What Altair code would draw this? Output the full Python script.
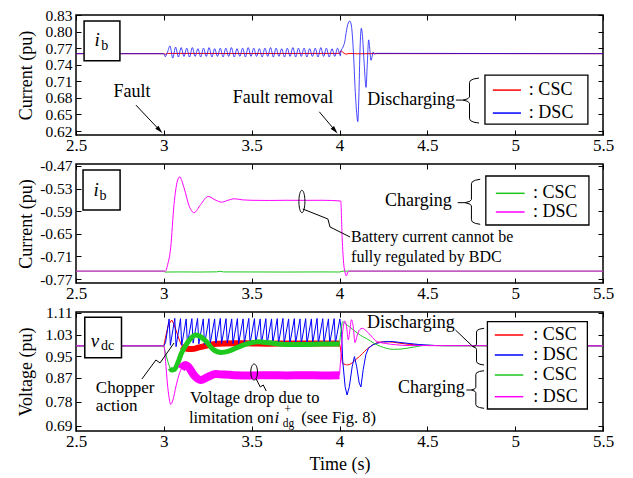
import altair as alt
import numpy as np
import pandas as pd

FONT = "Liberation Serif"
W = 527
H1, H2, H3 = 120, 119, 119
RED, BLUE, GREEN, MAG = "#ff0000", "#0000ff", "#1ec81e", "#ff00ff"

X_DOMAIN = [2.5, 5.5]
X_TICKS = [2.5, 3.0, 3.5, 4.0, 4.5, 5.0, 5.5]

# ---------------- Panel 1 : battery current, discharging ----------------
P1_DOMAIN = [0.6128, 0.83]
P1_TICKS = [0.62, 0.65, 0.68, 0.71, 0.74, 0.77, 0.80, 0.83]

P1_RED_T = [2.5, 3.0, 3.008, 3.02, 3.5, 4.0, 4.01, 4.02, 4.035, 4.06, 4.1, 4.2, 5.5]
P1_RED_V = [0.76, 0.76, 0.7588, 0.7605, 0.7603, 0.7605, 0.7655, 0.762, 0.7592, 0.7604, 0.7598, 0.7601, 0.76]

P1_BLUE_PRE_T = [2.5, 3.0, 3.008, 3.02]
P1_BLUE_PRE_V = [0.76, 0.76, 0.7545, 0.762]
P1_BLUE_FIRST, P1_BLUE_PERIOD = 3.035, 0.0318
P1_BLUE_PEAKS = [0.774, 0.772, 0.771, 0.770, 0.771, 0.769, 0.770, 0.771, 0.769, 0.770, 0.770,
                 0.771, 0.769, 0.770, 0.771, 0.770, 0.769, 0.770, 0.771, 0.770, 0.769, 0.770,
                 0.771, 0.770, 0.770, 0.769, 0.770, 0.771, 0.770, 0.769, 0.770]
P1_BLUE_TROUGHS = [0.752, 0.754, 0.755, 0.754, 0.755, 0.754, 0.755, 0.754, 0.755, 0.754, 0.755,
                   0.754, 0.755, 0.754, 0.755, 0.755, 0.754, 0.755, 0.754, 0.755, 0.754, 0.755,
                   0.754, 0.755, 0.754, 0.755, 0.754, 0.755, 0.754, 0.755, 0.756]
P1_BLUE_POST_T = [4.008, 4.02, 4.03, 4.038, 4.047, 4.059, 4.068, 4.078, 4.09, 4.1, 4.104, 4.11,
                  4.117, 4.124, 4.13, 4.14, 4.151, 4.158, 4.166, 4.172, 4.179, 4.186, 4.192, 4.2,
                  4.207, 5.5]
P1_BLUE_POST_V = [0.764, 0.772, 0.782, 0.798, 0.813, 0.819, 0.81, 0.77, 0.69, 0.645, 0.637, 0.68,
                  0.77, 0.806, 0.795, 0.745, 0.699, 0.74, 0.785, 0.77, 0.748, 0.755, 0.763, 0.759,
                  0.7606, 0.76]

# ---------------- Panel 2 : battery current, charging ----------------
P2_DOMAIN = [-0.7806, -0.4647]
P2_TICKS = [-0.77, -0.71, -0.65, -0.59, -0.53, -0.47]

P2_GREEN_T = [2.5, 3.0, 3.006, 3.1, 3.2, 3.3, 3.32, 3.34, 3.5, 3.7, 3.9, 4.0, 4.02, 5.5]
P2_GREEN_V = [-0.749, -0.749, -0.7515, -0.7512, -0.7515, -0.751, -0.7495, -0.7512, -0.7513,
              -0.7515, -0.7512, -0.7514, -0.749, -0.749]

P2_MAG_T = [2.5, 3.01, 3.02, 3.039, 3.058, 3.077, 3.09, 3.115, 3.144, 3.172, 3.21, 3.252, 3.296,
            3.329, 3.365, 3.401, 3.45, 3.496, 3.6, 3.7, 3.8, 3.9, 4.007, 4.015, 4.025, 4.03,
            4.039, 4.047, 4.06, 5.5]
P2_MAG_V = [-0.749, -0.749, -0.735, -0.687, -0.572, -0.51, -0.499, -0.528, -0.576, -0.594, -0.572,
            -0.551, -0.561, -0.566, -0.561, -0.557, -0.56, -0.561, -0.5615, -0.561, -0.5612,
            -0.561, -0.563, -0.66, -0.735, -0.749, -0.762, -0.752, -0.749, -0.749]

# ---------------- Panel 3 : dc-link voltage ----------------
P3_DOMAIN = [0.6714, 1.1137]
P3_TICKS = [0.69, 0.78, 0.87, 0.95, 1.03, 1.11]

P3_RED_PRE_T = [2.5, 3.0, 3.01, 3.025, 3.045, 3.06, 3.08, 3.1]
P3_RED_PRE_V = [0.988, 0.988, 1.02, 1.065, 1.084, 1.065, 1.025, 0.99]
P3_RED_BAND_T = [3.1, 3.13, 3.16, 3.2, 3.25, 3.3, 3.4, 3.5, 3.6, 3.7, 3.8, 3.9, 4.0]
P3_RED_BAND_V = [0.985, 0.977, 0.976, 0.982, 0.99, 0.996, 0.998, 0.997, 0.996, 0.997, 0.997, 0.997, 0.997]
P3_RED_POST_T = [4.0, 4.01, 4.018, 4.047, 4.095, 4.132, 4.155, 4.18, 4.23, 4.28, 4.33, 4.4, 4.5, 5.5]
P3_RED_POST_V = [0.997, 0.96, 0.923, 0.917, 0.938, 0.96, 0.975, 0.987, 1.002, 1.003, 0.999, 0.993, 0.989, 0.988]

P3_BLUE_PRE_T = [2.5, 3.0, 3.01]
P3_BLUE_PRE_V = [0.988, 0.988, 1.0]
P3_BLUE_FIRST, P3_BLUE_PERIOD = 3.03, 0.0324
P3_BLUE_TOPS = [1.088, 1.09, 1.089, 1.088, 1.089, 1.09, 1.088, 1.089, 1.088, 1.09, 1.089, 1.088,
                1.089, 1.088, 1.09, 1.089, 1.088, 1.089, 1.088, 1.089, 1.09, 1.088, 1.089, 1.088,
                1.089, 1.088, 1.09, 1.089, 1.088, 1.089, 1.088]
P3_BLUE_BOTTOMS = [0.99, 0.985, 0.99, 0.995, 0.998, 0.995, 0.993, 0.996, 0.998, 0.997, 0.998,
                   0.996, 0.997, 0.998, 0.997, 0.998, 0.997, 0.996, 0.998, 0.997, 0.998, 0.997,
                   0.998, 0.996, 0.997, 0.998, 0.997, 0.998, 0.997, 0.998]
P3_BLUE_POST_T = [4.012, 4.018, 4.032, 4.043, 4.056, 4.072, 4.085, 4.098, 4.112, 4.122, 4.135,
                  4.15, 4.165, 4.19, 4.21, 4.25, 4.3, 4.35, 4.45, 4.55, 5.5]
P3_BLUE_POST_V = [1.04, 0.935, 0.836, 0.805, 0.836, 0.91, 0.948, 0.91, 0.85, 0.835, 0.9, 0.955,
                  0.979, 0.992, 0.997, 1.003, 1.004, 1.0, 0.993, 0.989, 0.988]

P3_GREEN_PRE_T = [2.5, 3.0, 3.01, 3.025, 3.035]
P3_GREEN_PRE_V = [0.988, 0.988, 0.96, 0.925, 0.905]
P3_GREEN_BAND_T = [3.035, 3.045, 3.06, 3.08, 3.1, 3.13, 3.16, 3.18, 3.2, 3.24, 3.28, 3.325, 3.37,
                   3.43, 3.49, 3.535, 3.6, 3.7, 3.8, 3.9, 4.0]
P3_GREEN_BAND_V = [0.905, 0.898, 0.9, 0.925, 0.96, 0.995, 1.02, 1.028, 1.025, 1.005, 0.975, 0.963,
                   0.968, 0.985, 0.998, 1.003, 0.999, 0.993, 0.993, 0.995, 0.995]
P3_GREEN_POST_T = [4.0, 4.008, 4.018, 4.03, 4.08, 4.132, 4.154, 4.2, 4.266, 4.306, 4.35, 4.42,
                   4.497, 4.6, 5.5]
P3_GREEN_POST_V = [0.995, 1.04, 1.078, 1.072, 1.047, 1.022, 1.015, 0.996, 0.979, 0.975, 0.976,
                   0.983, 0.99, 0.988, 0.988]

P3_MAG_PRE_T = [2.5, 3.0, 3.01, 3.02, 3.03, 3.039, 3.05, 3.07, 3.09, 3.1]
P3_MAG_PRE_V = [0.988, 0.988, 0.93, 0.85, 0.795, 0.77, 0.783, 0.84, 0.888, 0.902]
P3_MAG_BAND_T = [3.1, 3.11, 3.124, 3.14, 3.17, 3.21, 3.25, 3.296, 3.34, 3.4, 3.5, 3.6, 3.7, 3.8, 3.9, 4.0]
P3_MAG_BAND_V = [0.902, 0.912, 0.917, 0.91, 0.88, 0.861, 0.872, 0.883, 0.881, 0.879, 0.878, 0.879,
                 0.878, 0.879, 0.878, 0.879]
P3_MAG_POST_T = [4.0, 4.008, 4.018, 4.03, 4.04, 4.05, 4.058, 4.068, 4.078, 4.088, 4.1, 4.115,
                 4.13, 4.15, 4.18, 4.21, 4.26, 4.32, 4.4, 5.5]
P3_MAG_POST_V = [0.879, 0.95, 1.04, 1.08, 1.06, 1.01, 1.04, 1.085, 1.06, 1.0, 1.025, 1.048, 1.053,
                 1.045, 1.025, 1.005, 0.997, 0.992, 0.989, 0.988]


# ---------------- helpers ----------------
def df_of(t, v):
    return pd.DataFrame({"t": t, "v": v})


def osc(pre_t, pre_v, first, period, highs, lows, low_frac, post_t, post_v):
    t, v = list(pre_t), list(pre_v)
    for k, h in enumerate(highs):
        tk = first + k * period
        t.append(tk)
        v.append(h)
        if k < len(lows):
            t.append(tk + low_frac * period)
            v.append(lows[k])
    return df_of(t + list(post_t), v + list(post_v))


class Panel:
    def __init__(self, ydom):
        self.ydom = ydom
        self.layers = []

    def X(self, f="t"):
        return alt.X(f + ":Q", scale=alt.Scale(domain=X_DOMAIN, nice=False, zero=False), axis=None)

    def Y(self, f="v"):
        return alt.Y(f + ":Q", scale=alt.Scale(domain=self.ydom, nice=False, zero=False), axis=None)

    def line(self, df, color, width=1.0, opacity=1.0, interp="linear"):
        self.layers.append(
            alt.Chart(df).mark_line(color=color, strokeWidth=width, opacity=opacity,
                                    interpolate=interp, strokeCap="butt", clip=True)
            .encode(x=self.X(), y=self.Y()))

    def path(self, pts, width=1.0, color="black"):
        df = pd.DataFrame({"i": range(len(pts)), "t": [p[0] for p in pts], "v": [p[1] for p in pts]})
        self.layers.append(
            alt.Chart(df).mark_line(color=color, strokeWidth=width)
            .encode(x=self.X(), y=self.Y(), order="i:Q"))

    def rect(self, t1, t2, v1, v2, sw=1.3):
        df = pd.DataFrame({"t": [t1], "t2": [t2], "v": [v1], "v2": [v2]})
        self.layers.append(
            alt.Chart(df).mark_rect(fill="white", stroke="black", strokeWidth=sw)
            .encode(x=self.X(), x2=alt.X2("t2"), y=self.Y(), y2=alt.Y2("v2")))

    def rule(self, t1, t2, v, color, sw=1.5):
        df = pd.DataFrame({"t": [t1], "t2": [t2], "v": [v]})
        self.layers.append(
            alt.Chart(df).mark_rule(color=color, strokeWidth=sw)
            .encode(x=self.X(), x2=alt.X2("t2"), y=self.Y()))

    def text(self, s, t, v, size=18, align="left", baseline="alphabetic", italic=False):
        df = pd.DataFrame({"s": [s], "t": [t], "v": [v]})
        kw = dict(font=FONT, fontSize=size, align=align, baseline=baseline, color="black")
        if italic:
            kw["fontStyle"] = "italic"
        self.layers.append(
            alt.Chart(df).mark_text(**kw).encode(x=self.X(), y=self.Y(), text="s:N"))

    def arrow(self, t0, v0, tc, vc, angle):
        self.path([(t0, v0), (tc, vc)])
        df = pd.DataFrame({"t": [tc], "v": [vc]})
        self.layers.append(
            alt.Chart(df).mark_point(shape="M0,-1L0.55,1L-0.55,1Z", filled=True, color="black",
                                     opacity=1, size=64, angle=angle, strokeWidth=0)
            .encode(x=self.X(), y=self.Y()))

    def ellipse(self, tc, vc, rt, rv):
        a = np.linspace(0, 2 * np.pi, 49)
        self.path(list(zip(tc + rt * np.cos(a), vc + rv * np.sin(a))))

    def brace(self, t_tip, t_vert, t_hook, v_top, v_mid, v_bot, dash_from=None):
        c = 0.1 * (v_top - v_bot)
        dh = t_hook - t_vert
        dt = t_vert - t_tip
        pts = [(t_hook, v_top), (t_vert + 0.45 * dh, v_top - 0.2 * c), (t_vert + 0.1 * dh, v_top - 0.55 * c),
               (t_vert, v_top - c), (t_vert, v_mid + 0.7 * c), (t_vert - 0.25 * dt, v_mid + 0.3 * c),
               (t_tip, v_mid),
               (t_vert - 0.25 * dt, v_mid - 0.3 * c), (t_vert, v_mid - 0.7 * c), (t_vert, v_bot + c),
               (t_vert + 0.1 * dh, v_bot + 0.55 * c), (t_vert + 0.45 * dh, v_bot + 0.2 * c), (t_hook, v_bot)]
        self.path(pts)
        if dash_from is not None:
            self.path([(dash_from, v_mid), (t_tip, v_mid)])

    def build(self, height, ticks, title, label_expr, xtitle=None):
        common = dict(domain=False, grid=False, tickColor="black", tickSize=5, tickWidth=1,
                      offset=-5, labelFont=FONT, labelColor="black",
                      labelOverlap=False, labelFlush=False,
                      titleFont=FONT, titleFontSize=18, titleFontWeight="normal", titleColor="black")
        adf = pd.DataFrame({"t": X_DOMAIN, "v": self.ydom})
        xs = alt.Scale(domain=X_DOMAIN, nice=False, zero=False)
        ys = alt.Scale(domain=self.ydom, nice=False, zero=False)
        xax = alt.Axis(orient="bottom", values=X_TICKS, format="~g", labelPadding=2, labelFontSize=17,
                       title=xtitle if xtitle else None, titlePadding=6, **common)
        yax = alt.Axis(orient="left", values=ticks, labelExpr=label_expr, labelPadding=4,
                       labelFontSize=15.5,
                       title=title, titleX=-55, titleY=height / 2, titleBaseline="middle",
                       titleAngle=270, **common)
        ax1 = alt.Chart(adf).mark_point(opacity=0).encode(
            x=alt.X("t:Q", scale=xs, axis=xax), y=alt.Y("v:Q", scale=ys, axis=yax))
        xax2 = alt.Axis(orient="top", values=X_TICKS, labels=False, title=None, **common)
        yax2 = alt.Axis(orient="right", values=ticks, labels=False, title=None, **common)
        ax2 = alt.Chart(adf).mark_point(opacity=0).encode(
            x=alt.X("t:Q", scale=xs, axis=xax2), y=alt.Y("v:Q", scale=ys, axis=yax2))
        return (alt.layer(ax1, ax2, *self.layers)
                .resolve_axis(x="independent", y="independent")
                .properties(width=W, height=height))


# ---------------- Panel 1 ----------------
p1 = Panel(P1_DOMAIN)
p1.line(df_of(P1_RED_T, P1_RED_V), RED)
p1.line(osc(P1_BLUE_PRE_T, P1_BLUE_PRE_V, P1_BLUE_FIRST, P1_BLUE_PERIOD, P1_BLUE_PEAKS,
            P1_BLUE_TROUGHS, 0.5, P1_BLUE_POST_T, P1_BLUE_POST_V), BLUE, opacity=0.72, interp="monotone")
p1.rect(2.546, 2.75, 0.747, 0.819, sw=1.5)
p1.text("i", 2.621, 0.7744, size=19, align="center", italic=True)
p1.text("b", 2.664, 0.7666, size=14, align="center")
p1.text("Fault", 2.819, 0.6814, align="center")
p1.arrow(2.841, 0.667, 2.976, 0.6215, 136.6)
p1.text("Fault removal", 3.678, 0.6706, align="center")
p1.arrow(3.885, 0.6548, 3.974, 0.6212, 139.7)
p1.text("Discharging", 4.657, 0.667, align="right")
p1.brace(4.703, 4.740, 4.794, 0.7159, 0.676, 0.6344, dash_from=4.663)
p1.rect(4.828, 5.414, 0.6325, 0.7213)
for v, c in [(0.6941, RED), (0.6525, BLUE)]:
    p1.rule(4.873, 5.033, v, c)
    p1.text(": CSC" if c == RED else ": DSC", 5.078, v, baseline="middle")
ch1 = p1.build(H1, P1_TICKS, "Current (pu)", "format(datum.value, '.2f')")

# ---------------- Panel 2 ----------------
p2 = Panel(P2_DOMAIN)
p2.line(df_of(P2_GREEN_T, P2_GREEN_V), GREEN)
p2.line(df_of(P2_MAG_T, P2_MAG_V), MAG, interp="monotone")
p2.rect(2.54, 2.751, -0.5868, -0.4806, sw=1.5)
p2.text("i", 2.614, -0.5496, size=19, align="center", italic=True)
p2.text("b", 2.653, -0.561, size=14, align="center")
p2.ellipse(3.786, -0.5642, 0.017, 0.0297)
p2.path([(3.791, -0.5841), (3.934, -0.6107), (3.946, -0.6319), (4.06, -0.6585)])
p2.text("Battery current cannot be", 4.066, -0.671, size=16)
p2.text("fully regulated by BDC", 4.066, -0.724, size=16)
p2.text("Charging", 4.639, -0.5762, align="right")
p2.brace(4.715, 4.751, 4.801, -0.5053, -0.5674, -0.6248, dash_from=4.673)
p2.rect(4.833, 5.42, -0.6266, -0.4965)
for v, c, s in [(-0.5425, GREEN, ": CSC"), (-0.5921, MAG, ": DSC")]:
    p2.rule(4.89, 5.054, v, c)
    p2.text(s, 5.102, v, baseline="middle")
ch2 = p2.build(H2, P2_TICKS, "Current (pu)", "'-' + format(abs(datum.value), '.2f')")

# ---------------- Panel 3 ----------------
p3 = Panel(P3_DOMAIN)
p3.line(df_of(P3_RED_PRE_T, P3_RED_PRE_V), RED)
p3.line(df_of(P3_RED_BAND_T, P3_RED_BAND_V), RED, width=6, interp="monotone")
p3.line(df_of(P3_RED_POST_T, P3_RED_POST_V), RED, interp="monotone")
p3.line(osc(P3_BLUE_PRE_T, P3_BLUE_PRE_V, P3_BLUE_FIRST, P3_BLUE_PERIOD, P3_BLUE_TOPS,
            P3_BLUE_BOTTOMS, 0.22, P3_BLUE_POST_T, P3_BLUE_POST_V), BLUE)
p3.line(df_of(P3_GREEN_PRE_T, P3_GREEN_PRE_V), GREEN)
p3.line(df_of(P3_GREEN_BAND_T, P3_GREEN_BAND_V), GREEN, width=5, interp="monotone")
p3.line(df_of(P3_GREEN_POST_T, P3_GREEN_POST_V), GREEN, interp="monotone")
p3.line(df_of(P3_MAG_PRE_T, P3_MAG_PRE_V), MAG, interp="monotone")
p3.line(df_of(P3_MAG_BAND_T, P3_MAG_BAND_V), MAG, width=8, interp="monotone")
p3.line(df_of(P3_MAG_POST_T, P3_MAG_POST_V), MAG, interp="monotone")
p3.rect(2.55, 2.759, 0.944, 1.094, sw=1.5)
p3.text("v", 2.608, 0.9847, size=19, align="center", italic=True)
p3.text("dc", 2.68, 0.9725, size=14, align="center")
p3.text("Chopper", 2.613, 0.8115, size=17)
p3.text("action", 2.613, 0.7457, size=17)
p3.path([(2.875, 0.8646), (2.955, 0.9353), (2.978, 0.9242), (3.058, 0.9985)])
p3.ellipse(3.514, 0.8907, 0.019, 0.0297)
p3.path([(3.526, 0.8646), (3.549, 0.8349), (3.566, 0.8424), (3.583, 0.8201)])
p3.text("Voltage drop due to", 3.149, 0.7766, size=16.5)
p3.text("limitation on", 3.143, 0.7022, size=16.5)
p3.text("i", 3.643, 0.7022, size=17, align="center", italic=True)
p3.text("dg", 3.71, 0.6845, size=11.5, align="center")
p3.text("+", 3.706, 0.74, size=11.5, align="center")
p3.text("(see Fig. 8)", 3.782, 0.7022, size=16.5)
p3.text("Discharging", 4.656, 1.053, align="right")
p3.path([(4.66, 1.0468), (4.760, 0.9847)])
p3.brace(4.760, 4.780, 4.823, 1.0531, 0.9847, 0.9167)
p3.text("Charging", 4.713, 0.8115, align="right")
p3.brace(4.751, 4.776, 4.823, 0.8955, 0.8238, 0.7557, dash_from=4.722)
p3.rect(4.842, 5.411, 0.7531, 1.0777)
for v, c, s in [(1.0282, RED, ": CSC"), (0.9539, BLUE, ": DSC"), (0.8795, GREEN, ": CSC"), (0.7989, MAG, ": DSC")]:
    p3.rule(4.884, 5.046, v, c)
    p3.text(s, 5.103, v, baseline="middle")
ch3 = p3.build(H3, P3_TICKS, "Voltage (pu)", "format(datum.value, '.2f')", xtitle="Time (s)")

chart = (alt.vconcat(ch1, ch2, ch3, spacing=29, bounds="flush")
         .properties(padding={"left": 16, "top": 7, "right": 5, "bottom": 5}, background="white")
         .configure_view(stroke="black", strokeWidth=1.5))

chart.save("out.html", embed_options={"renderer": "svg", "actions": False})
